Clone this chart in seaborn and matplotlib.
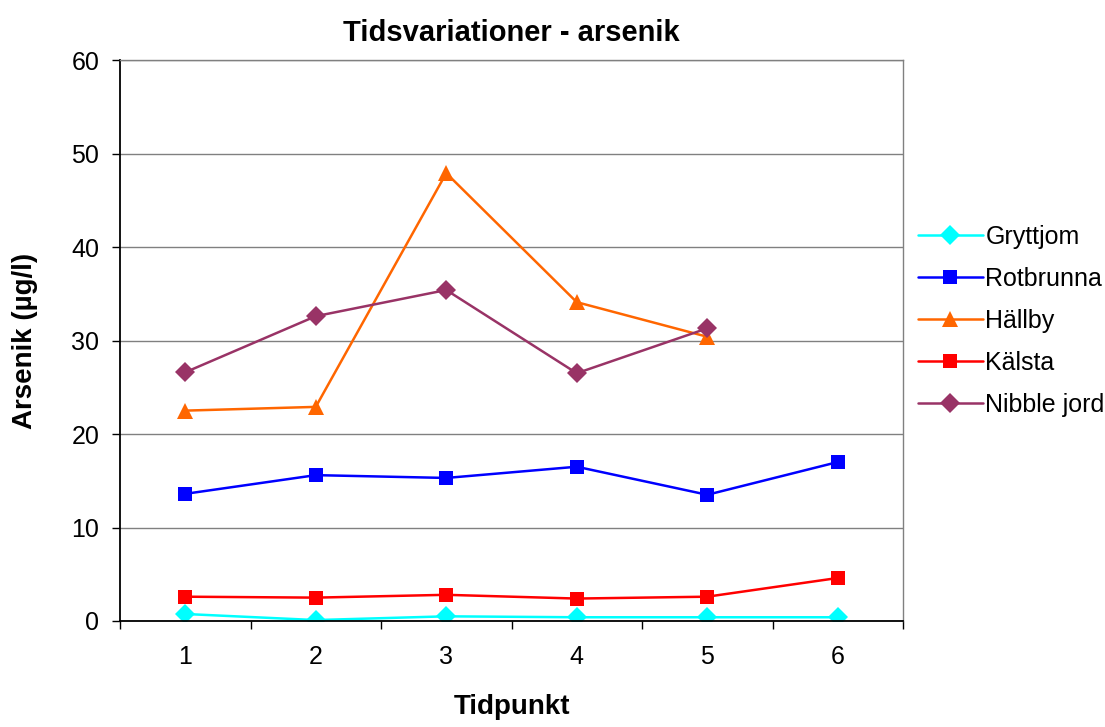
import numpy as np
import pandas as pd
import seaborn as sns
import matplotlib.pyplot as plt
from matplotlib.ticker import FixedLocator

tidpunkt = [1, 2, 3, 4, 5, 6]
gryttjom = [0.75, 0.1, 0.5, 0.4, 0.4, 0.4]
rotbrunna = [13.6, 15.6, 15.3, 16.5, 13.5, 17.0]
hallby = [22.5, 22.9, 47.9, 34.1, 30.4, np.nan]
kalsta = [2.6, 2.5, 2.8, 2.4, 2.6, 4.6]
nibble = [26.6, 32.6, 35.4, 26.5, 31.3, np.nan]

serier = ["Gryttjom", "Rotbrunna", "Hällby", "Kälsta", "Nibble jord"]
farger = ["#00FFFF", "#0000FF", "#FF6600", "#FF0000", "#993366"]
markorer = ["D", "s", "^", "s", "D"]

rows = []
for namn, vals in zip(serier, [gryttjom, rotbrunna, hallby, kalsta, nibble]):
    for t, v in zip(tidpunkt, vals):
        if not np.isnan(v):
            rows.append({"Tidpunkt": t - 1, "Arsenik": v, "Plats": namn})
df = pd.DataFrame(rows)

sns.set_style("white")
plt.rcParams['font.family'] = ['Liberation Sans', 'DejaVu Sans']
plt.rcParams['text.color'] = 'black'
plt.rcParams['axes.labelcolor'] = 'black'
plt.rcParams['xtick.color'] = 'black'
plt.rcParams['ytick.color'] = 'black'

fig = plt.figure(figsize=(11.05, 7.27), dpi=100)
ax = fig.add_axes([120 / 1105, 1 - 621 / 727, 783 / 1105, 561 / 727])

ax = sns.lineplot(data=df, x="Tidpunkt", y="Arsenik", hue="Plats", style="Plats",
                  hue_order=serier, style_order=serier,
                  palette=dict(zip(serier, farger)),
                  markers=dict(zip(serier, markorer)), dashes=False,
                  markersize=10, markeredgewidth=0, linewidth=1.8, ax=ax)

# större trianglar, som i Excel
for ln in ax.lines:
    if ln.get_marker() == "^":
        ln.set_markersize(12)

ax.set_xlim(-0.5, 5.5)
ax.set_ylim(0, 60)
ax.set_yticks(np.arange(0, 61, 10))
ax.yaxis.grid(True, color="#808080", linewidth=1)
ax.set_axisbelow(True)
ax.set_xticks(range(6))
ax.set_xticklabels([str(t) for t in tidpunkt])
ax.xaxis.set_minor_locator(FixedLocator(np.arange(-0.5, 5.6, 1)))
ax.tick_params(axis="x", which="major", bottom=True, length=0, labelsize=18, pad=17)
ax.tick_params(axis="x", which="minor", bottom=True, length=6, width=1, direction="out")
ax.tick_params(axis="y", which="major", left=True, length=6, width=1, direction="out",
               labelsize=18, pad=9)

for s in ["top", "right"]:
    ax.spines[s].set_color("#808080")
    ax.spines[s].set_linewidth(1)
for s in ["left", "bottom"]:
    ax.spines[s].set_color("black")
    ax.spines[s].set_linewidth(1.3)

ax.set_xlabel("Tidpunkt", fontsize=20, fontweight="bold", labelpad=18)
ax.set_ylabel("Arsenik (µg/l)", fontsize=20, fontweight="bold", labelpad=24)
ax.set_title("Tidsvariationer - arsenik", fontsize=21, fontweight="bold", pad=14)

handles, labels = ax.get_legend_handles_labels()
for h in handles:
    if h.get_marker() == "^":
        h.set_markersize(12)
ax.legend(handles, labels, loc="center left", bbox_to_anchor=(1.019, 0.535),
          frameon=False, fontsize=18, handlelength=2.6, labelspacing=0.72,
          handletextpad=0.1, borderaxespad=0, borderpad=0)

fig.savefig("out.png", dpi=100)
